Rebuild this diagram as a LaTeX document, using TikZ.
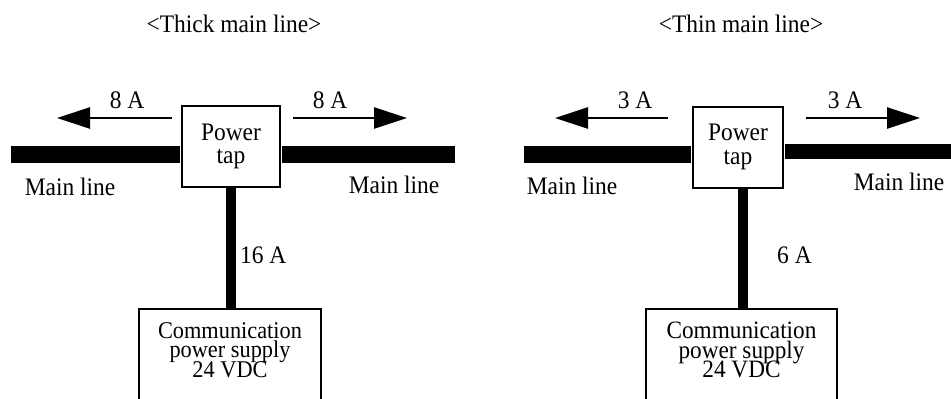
\documentclass[tikz,border=0pt]{standalone}
\usepackage{fontspec}
\setmainfont{Liberation Serif}[FakeStretch=0.93]
\usetikzlibrary{arrows.meta}
\setlength{\lineskiplimit}{-40pt}
\begin{document}
\begin{tikzpicture}[x=1pt,y=-1pt,
  lbl/.style={font={\fontsize{25.2}{24}\selectfont}, inner sep=0pt},
  tapbox/.style={draw, line width=2pt, fill=white, align=center,
    font={\fontsize{25.2}{23.5}\selectfont}, minimum height=81pt, inner sep=0pt},
  psubox/.style={draw, line width=2pt, fill=white, align=center, anchor=north,
    inner xsep=0pt, text depth=60pt},
  mainbar/.style={line width=#1},
  stemline/.style={line width=10pt},
  flow/.style={line width=2.7pt, -{Triangle[length=33pt,width=21pt]}}
]
\lineskiplimit=-40pt
\useasboundingbox (0,0) rectangle (951,399);
\clip (0,0) rectangle (951,399);

% ---------- left: thick main line ----------
\node[lbl, anchor=base] (t1) at (234,32) {\textless Thick main line\textgreater};
\node[tapbox, minimum width=98pt] (tap1) at (231,146.5) {Power\\tap};
\node[psubox, minimum width=182pt, inner ysep=13.5pt,
  font={\fontsize{24}{19.5}\selectfont}] (psu1) at (230,308)
  {Communication\\power supply\\24 VDC};

\coordinate (l1a) at (11,154.5);
\coordinate (r1b) at (455,154.5);
\draw[mainbar=17pt] (l1a) -- ([xshift=-1pt]l1a -| tap1.west);
\draw[mainbar=17pt] ([xshift=1pt]tap1.east |- r1b) -- (r1b);
\draw[stemline] ([yshift=1pt]tap1.south) -- ([yshift=-1pt]tap1.south |- psu1.north);

\coordinate (a1s) at (172,118); \coordinate (a1e) at (57,118);
\coordinate (b1s) at (293,118); \coordinate (b1e) at (407,118);
\draw[flow] (a1s) -- (a1e);
\draw[flow] (b1s) -- (b1e);

\node[lbl, anchor=base] (c1) at (127,108) {8 A};
\node[lbl, anchor=base] (d1) at (330,108) {8 A};
\node[lbl, anchor=base] (m1) at (70,195) {Main line};
\node[lbl, anchor=base] (n1) at (394,193) {Main line};
\node[lbl, anchor=base west] (i1) at (240,263) {16 A};

% ---------- right: thin main line ----------
\node[lbl, anchor=base] (t2) at (741,32) {\textless Thin main line\textgreater};
\node[tapbox, minimum width=90pt] (tap2) at (738,147) {Power\\tap};
\node[psubox, minimum width=191pt, inner ysep=13pt,
  font={\fontsize{25}{19.5}\selectfont}] (psu2) at (741.5,308)
  {Communication\\power supply\\24 VDC};

\coordinate (l2a) at (524,154.5);
\coordinate (r2b) at (951,151.5);
\draw[mainbar=17pt] (l2a) -- ([xshift=-1pt]l2a -| tap2.west);
\draw[mainbar=15pt] ([xshift=1pt]tap2.east |- r2b) -- (r2b);
\draw[stemline] ([xshift=5pt,yshift=1pt]tap2.south) -- ([xshift=5pt,yshift=-1pt]tap2.south |- psu2.north);

\coordinate (a2s) at (668,118); \coordinate (a2e) at (555,118);
\coordinate (b2s) at (806,118); \coordinate (b2e) at (920,118);
\draw[flow] (a2s) -- (a2e);
\draw[flow] (b2s) -- (b2e);

\node[lbl, anchor=base] (c2) at (635,108) {3 A};
\node[lbl, anchor=base] (d2) at (845,108) {3 A};
\node[lbl, anchor=base] (m2) at (572,194) {Main line};
\node[lbl, anchor=base] (n2) at (899,190) {Main line};
\node[lbl, anchor=base west] (i2) at (777,263) {6 A};
\end{tikzpicture}
\end{document}
